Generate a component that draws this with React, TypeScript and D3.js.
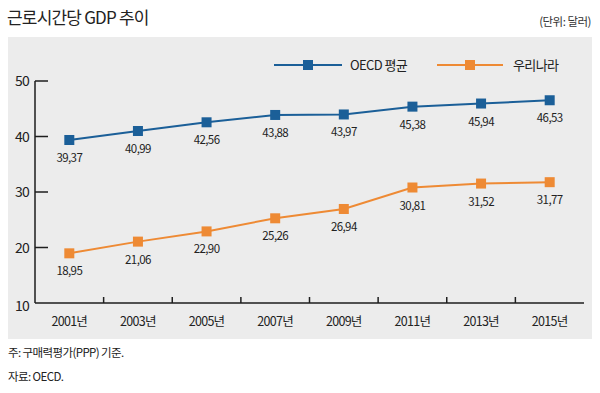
import * as d3 from "d3";

const years = ["2001년", "2003년", "2005년", "2007년", "2009년", "2011년", "2013년", "2015년"];
const oecd = [39.37, 40.99, 42.56, 43.88, 43.97, 45.38, 45.94, 46.53];
const korea = [18.95, 21.06, 22.9, 25.26, 26.94, 30.81, 31.52, 31.77];
const yTicks = [10, 20, 30, 40, 50];
const seriesNames = ["OECD 평균", "우리나라"];

const W = 600;
const H = 393;
const FONT = "'Noto Sans CJK KR', 'Noto Sans', sans-serif";
const BLUE = "#1b5f98";
const ORANGE = "#ee8a34";
const AXIS = "#1e1e1e";

const fmt = (v: number) => v.toFixed(2).replace(".", ",");

export default function App() {
  const x = d3.scaleBand<string>().domain(years).range([35, 584]);
  const y = d3.scaleLinear().domain([10, 50]).range([303, 81]);
  const cx = (d: string) => (x(d) ?? 0) + x.bandwidth() / 2;

  const line = d3
    .line<number>()
    .x((_, i) => cx(years[i]))
    .y((v) => y(v));

  const series = [
    { name: seriesNames[0], values: oecd, color: BLUE },
    { name: seriesNames[1], values: korea, color: ORANGE },
  ];

  const legend = [
    { x1: 274, x2: 342, tx: 350 },
    { x1: 437, x2: 503, tx: 513 },
  ];

  return (
    <div style={{ position: "fixed", left: 0, top: 0 }}>
      <svg width={W} height={H} style={{ display: "block", background: "#fff" }} fontFamily={FONT}>
        <text x={7} y={24} fontSize={17} fill="#222" letterSpacing={-0.8}>
          근로시간당 GDP 추이
        </text>
        <text x={591} y={26} fontSize={11.5} fill="#333" textAnchor="end" letterSpacing={-0.5}>
          (단위: 달러)
        </text>

        <rect x={8} y={37} width={584} height={302} fill="#ececec" />

        {/* legend */}
        {series.map((s, i) => (
          <g key={s.name}>
            <line x1={legend[i].x1} x2={legend[i].x2} y1={65} y2={65} stroke={s.color} strokeWidth={2} />
            <rect x={(legend[i].x1 + legend[i].x2) / 2 - 5} y={60} width={10} height={10} fill={s.color} />
            <text x={legend[i].tx} y={70} fontSize={13} fill="#222" letterSpacing={-0.6}>
              {s.name}
            </text>
          </g>
        ))}

        {/* y axis */}
        <line x1={35} x2={35} y1={y(50)} y2={y(10)} stroke={AXIS} strokeWidth={1.5} />
        {yTicks.map((t) => (
          <g key={t}>
            {t > 10 && <line x1={35} x2={48} y1={y(t)} y2={y(t)} stroke={AXIS} strokeWidth={1.5} />}
            <text
              x={29}
              y={y(t) + (t === 10 ? 8 : 5)}
              fontSize={14}
              fill="#222"
              textAnchor="end"
              letterSpacing={-0.8}
            >
              {t}
            </text>
          </g>
        ))}

        {/* x axis */}
        <line x1={35} x2={584} y1={y(10)} y2={y(10)} stroke={AXIS} strokeWidth={1.5} />
        {years.slice(1).map((d) => (
          <line key={d} x1={x(d)} x2={x(d)} y1={y(10)} y2={y(10) - 6} stroke={AXIS} strokeWidth={1.5} />
        ))}
        {years.map((d) => (
          <text key={d} x={cx(d)} y={326} fontSize={12.5} fill="#222" textAnchor="middle" letterSpacing={-0.7}>
            {d}
          </text>
        ))}

        {/* series */}
        {series.map((s) => (
          <g key={s.name}>
            <path d={line(s.values) ?? ""} fill="none" stroke={s.color} strokeWidth={2} />
            {s.values.map((v, i) => (
              <rect key={i} x={cx(years[i]) - 5} y={y(v) - 5} width={10} height={10} fill={s.color} />
            ))}
            {s.values.map((v, i) => (
              <text
                key={"t" + i}
                x={cx(years[i])}
                y={y(v) + 22}
                fontSize={11.5}
                fill="#222"
                textAnchor="middle"
                letterSpacing={-0.6}
              >
                {fmt(v)}
              </text>
            ))}
          </g>
        ))}

        {/* notes */}
        <text x={8} y={357} fontSize={11.5} fill="#222" letterSpacing={-0.6}>
          주: 구매력평가(PPP) 기준.
        </text>
        <text x={8} y={381} fontSize={11.5} fill="#222" letterSpacing={-0.6}>
          자료: OECD.
        </text>
      </svg>
    </div>
  );
}
